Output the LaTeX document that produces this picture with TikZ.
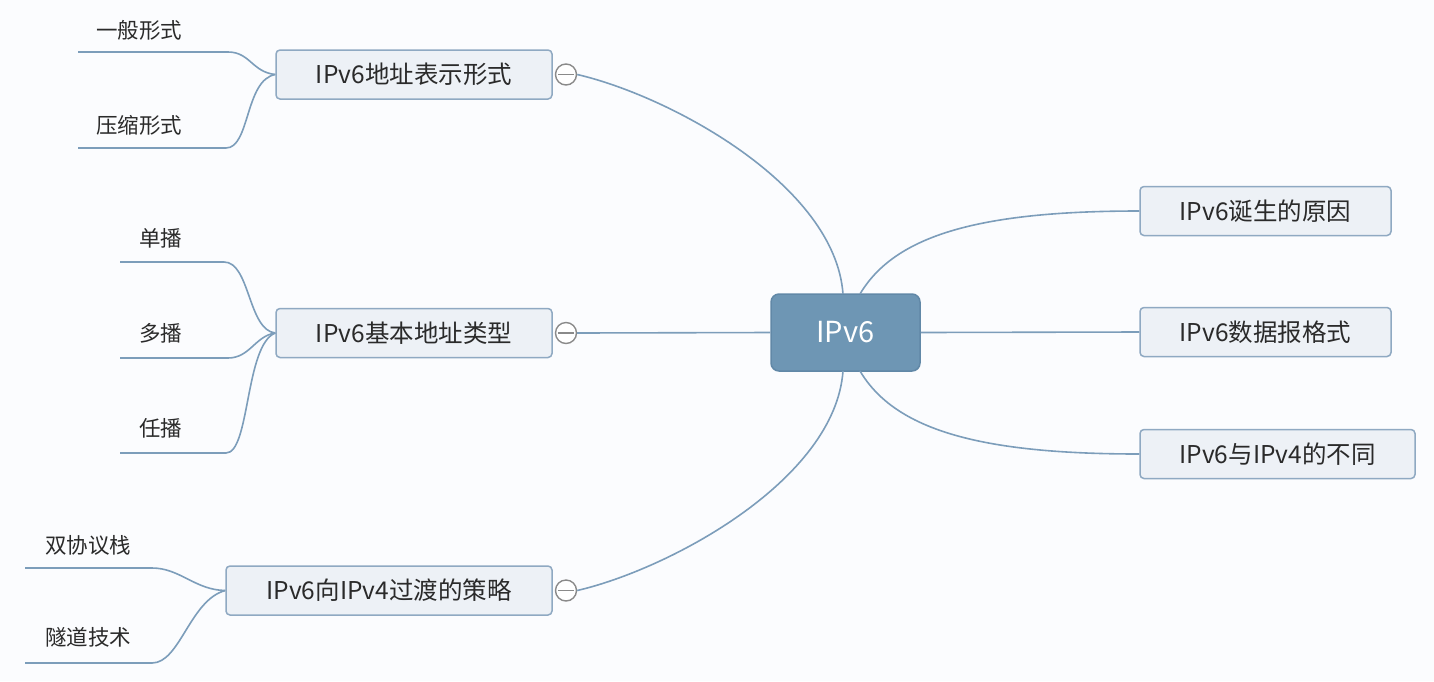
\documentclass[tikz,border=0pt]{standalone}
\usepackage{fontspec}
\setmainfont{Noto Sans CJK SC}
\definecolor{bgc}{HTML}{FBFCFE}
\definecolor{linec}{HTML}{7C9DBA}
\definecolor{boxfill}{HTML}{EDF1F6}
\definecolor{boxline}{HTML}{8FA9C2}
\definecolor{mainfill}{HTML}{6E96B4}
\definecolor{mainline}{HTML}{6188A7}
\definecolor{txt}{HTML}{2A2A2A}
\definecolor{circ}{HTML}{8A8A8A}
\tikzset{
  conn/.style={draw=linec, line width=1.6pt},
  topic/.style={draw=boxline, fill=boxfill, line width=1.5pt, rounded corners=4pt,
     minimum height=49pt, inner sep=0pt, text=txt, font=\fontsize{24.5}{28}\selectfont},
  central/.style={draw=mainline, fill=mainfill, line width=1.5pt, rounded corners=8pt,
     minimum width=149pt, minimum height=77pt, inner sep=0pt, text=white, font=\fontsize{29}{34}\selectfont},
  leaf/.style={inner sep=0pt, text=txt, font=\fontsize{21.5}{25}\selectfont},
  fold/.style={circle, draw=circ, fill=white, line width=1.4pt, minimum size=21pt, inner sep=0pt},
  foldbar/.style={draw=circ, line width=1.8pt, shorten <=3pt, shorten >=3pt}
}
\begin{document}
\begin{tikzpicture}[x=1pt,y=-1pt]
\fill[bgc] (0,0) rectangle (1434,681);
\useasboundingbox (0,0) rectangle (1434,681);

% central
\node[central] (c) at (845.5,332.5) {IPv6};

% left topics
\node[topic, minimum width=276pt] (t1) at (414,74.5) {IPv6地址表示形式};
\node[topic, minimum width=276pt] (t2) at (414,333) {IPv6基本地址类型};
\node[topic, minimum width=326pt] (t3) at (389,590.5) {IPv6向IPv4过渡的策略};

% right topics
\node[topic, minimum width=251pt] (r1) at (1265.5,211) {IPv6诞生的原因};
\node[topic, minimum width=251pt] (r2) at (1265.5,332) {IPv6数据报格式};
\node[topic, minimum width=275pt] (r3) at (1277.5,454) {IPv6与IPv4的不同};

% fold circles
\node[fold] (f1) at (566,74.5) {};
\node[fold] (f2) at (566,333) {};
\node[fold] (f3) at (566,590.5) {};
\draw[foldbar] (f1.west) -- (f1.east);
\draw[foldbar] (f2.west) -- (f2.east);
\draw[foldbar] (f3.west) -- (f3.east);

% main connectors
\coordinate (ctop) at (843,294);
\coordinate (cbot) at (843,371);
\coordinate (ctopr) at (860,294);
\coordinate (cbotr) at (860,371);
\draw[conn] (f1.east) .. controls (670,96) and (835,185) .. (ctop);
\draw[conn] (f2.east) -- (c.west);
\draw[conn] (f3.east) .. controls (670,569) and (835,480) .. (cbot);
\draw[conn] (ctopr) .. controls (895,235) and (980,211) .. (r1.west);
\draw[conn] (c.east) -- (r2.west);
\draw[conn] (cbotr) .. controls (895,430) and (980,454) .. (r3.west);

% leaves of t1
\node[leaf, anchor=west] (a1) at (96,30) {一般形式};
\node[leaf, anchor=west] (a2) at (96,125) {压缩形式};
\coordinate (a1s) at (78,52);  \coordinate (a1e) at (228,52);
\coordinate (a2s) at (78,148); \coordinate (a2e) at (226,148);
\draw[conn] (a1s) -- (a1e) .. controls (250,52) and (252,72) .. (t1.west);
\draw[conn] (a2s) -- (a2e) .. controls (250,148) and (245,80) .. (t1.west);

% leaves of t2
\node[leaf, anchor=west] (b1) at (139,238) {单播};
\node[leaf, anchor=west] (b2) at (139,333) {多播};
\node[leaf, anchor=west] (b3) at (139,428) {任播};
\coordinate (b1s) at (120,262); \coordinate (b1e) at (224,262);
\coordinate (b2s) at (120,358); \coordinate (b2e) at (228,358);
\coordinate (b3s) at (120,453); \coordinate (b3e) at (226,453);
\draw[conn] (b1s) -- (b1e) .. controls (250,262) and (248,330) .. (t2.west);
\draw[conn] (b2s) -- (b2e) .. controls (250,358) and (255,336) .. (t2.west);
\draw[conn] (b3s) -- (b3e) .. controls (250,453) and (245,345) .. (t2.west);

% leaves of t3
\node[leaf, anchor=west] (d1) at (45,545) {双协议栈};
\node[leaf, anchor=west] (d2) at (45,637) {隧道技术};
\coordinate (d1s) at (25,568); \coordinate (d1e) at (152,568);
\coordinate (d2s) at (25,663); \coordinate (d2e) at (152,663);
\draw[conn] (d1s) -- (d1e) .. controls (180,568) and (195,590) .. (t3.west);
\draw[conn] (d2s) -- (d2e) .. controls (180,663) and (190,600) .. (t3.west);
\end{tikzpicture}
\end{document}
